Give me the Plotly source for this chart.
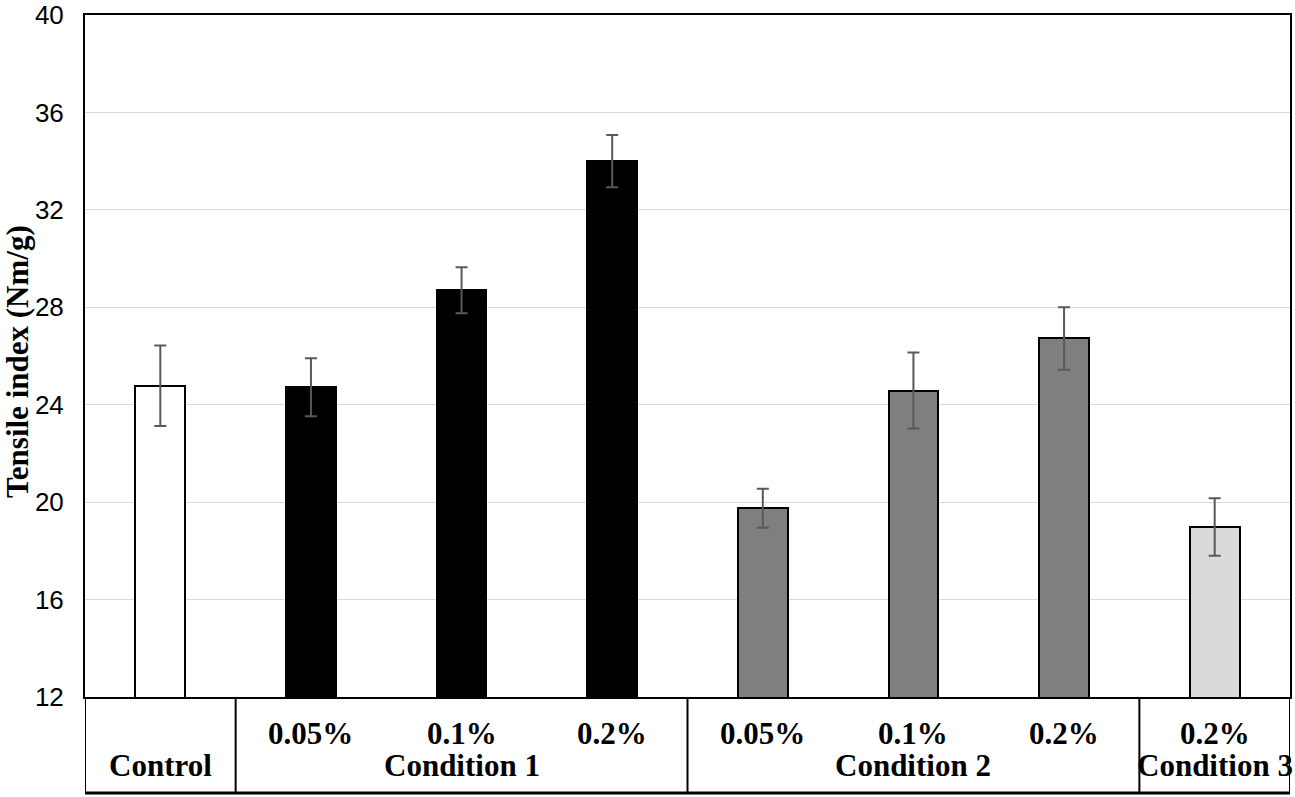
import plotly.graph_objects as go

# ---- data ----
groups = ["Control", "Condition 1", "Condition 1", "Condition 1",
          "Condition 2", "Condition 2", "Condition 2", "Condition 3"]
levels = ["", "0.05%", "0.1%", "0.2%", "0.05%", "0.1%", "0.2%", "0.2%"]
values = [24.78, 24.72, 28.70, 34.00, 19.75, 24.58, 26.72, 18.98]
errors = [1.65, 1.19, 0.94, 1.07, 0.80, 1.56, 1.28, 1.18]
bar_colors = ["#ffffff", "#000000", "#000000", "#000000",
              "#7f7f7f", "#7f7f7f", "#7f7f7f", "#dadada"]
y_ticks = [12, 16, 20, 24, 28, 32, 36, 40]

x = list(range(len(values)))
SERIF = "Liberation Serif"
SANS = "Liberation Sans"

fig = go.Figure()
fig.add_trace(go.Bar(
    x=x, y=values, width=0.33,
    marker=dict(color=bar_colors, line=dict(color="black", width=2)),
    error_y=dict(type="data", array=errors, visible=True,
                 color="#595959", thickness=2, width=6),
))

W, H = 1295, 797
ml, mr, mt, mb = 85, 5, 15, 100
plot_h = H - mt - mb

fig.update_layout(
    width=W, height=H,
    margin=dict(l=ml, r=mr, t=mt, b=mb, autoexpand=False),
    plot_bgcolor="white", paper_bgcolor="white",
    showlegend=False,
    bargap=0,
)
fig.update_xaxes(range=[-0.5, len(values) - 0.5], showticklabels=False,
                 showgrid=False, zeroline=False, showline=True, mirror=True,
                 linecolor="black", linewidth=2, ticks="", automargin=False)
fig.update_yaxes(range=[12, 40], tickvals=y_ticks, showgrid=True,
                 gridcolor="#d9d9d9", gridwidth=1, zeroline=False,
                 showline=True, mirror=True, linecolor="black", linewidth=2,
                 ticks="", ticklabelstandoff=14, ticklabeloverflow="allow",
                 automargin=False,
                 tickfont=dict(family=SANS, size=26, color="black"))

# table under the plot
table_bottom = -96 / plot_h
bounds = [-0.5]
for i in range(1, len(groups)):
    if groups[i] != groups[i - 1]:
        bounds.append(i - 0.5)
bounds.append(len(groups) - 0.5)
for b in bounds:
    fig.add_shape(type="line", xref="x", yref="paper", x0=b, x1=b,
                  y0=0, y1=table_bottom, line=dict(color="black", width=2))
fig.add_shape(type="line", xref="x", yref="paper", x0=-0.5, x1=len(groups) - 0.5,
              y0=table_bottom, y1=table_bottom, line=dict(color="black", width=3))

lab_font = dict(family=SERIF, size=31, color="black")
for i, lv in enumerate(levels):
    if lv:
        fig.add_annotation(x=i, y=0, xref="x", yref="paper", text=f"<b>{lv}</b>",
                           showarrow=False, yshift=-36, yanchor="middle",
                           font=lab_font)
seen = []
for g in groups:
    if g not in seen:
        seen.append(g)
for g in seen:
    idx = [i for i, gg in enumerate(groups) if gg == g]
    cx = sum(idx) / len(idx)
    fig.add_annotation(x=cx, y=0, xref="x", yref="paper", text=f"<b>{g}</b>",
                       showarrow=False, yshift=-68, yanchor="middle",
                       font=lab_font)

fig.add_annotation(x=0, y=0.5, xref="paper", yref="paper",
                   text="<b>Tensile index (Nm/g)</b>", textangle=-90,
                   showarrow=False, xshift=-68, yshift=-6,
                   xanchor="center", yanchor="middle",
                   font=dict(family=SERIF, size=31, color="black"))

fig.write_html("out.html", config={"displayModeBar": False},
               post_script="document.body.style.margin='0';document.body.style.overflow='hidden';")
